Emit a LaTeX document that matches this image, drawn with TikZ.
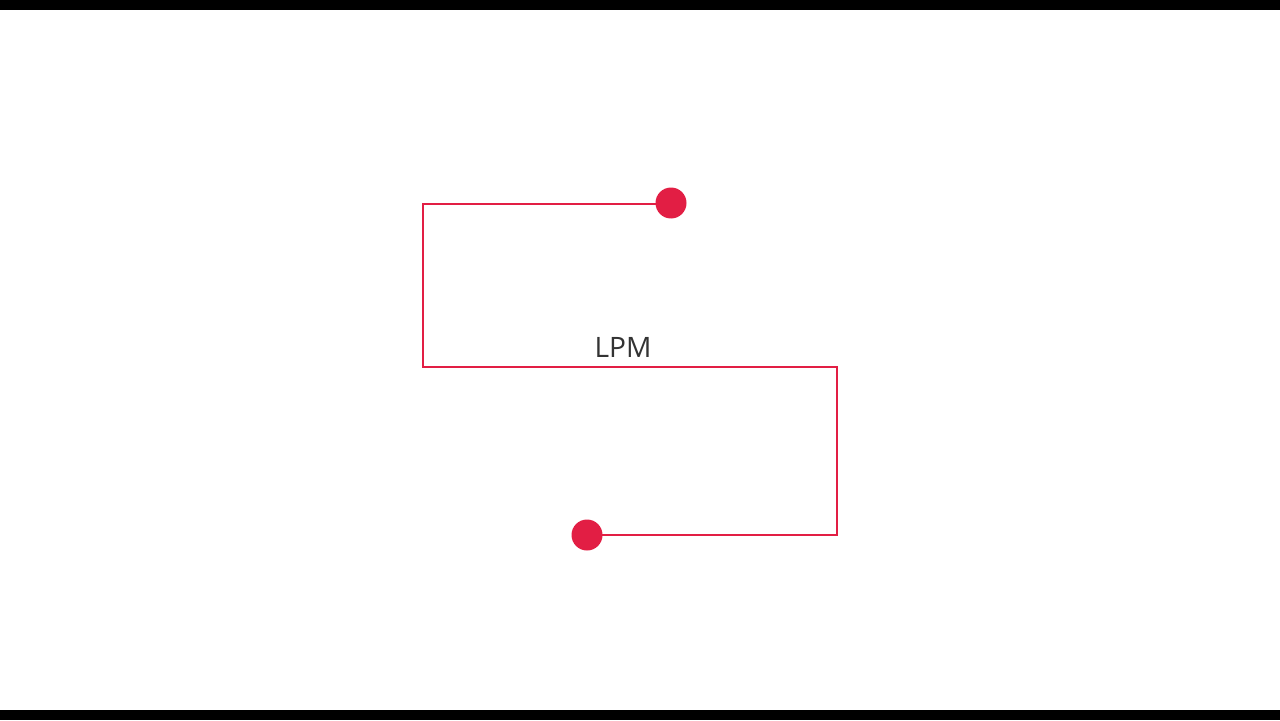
\documentclass[tikz,border=0pt]{standalone}
\usepackage{xcolor}
\usepackage{fontspec}
\setmainfont{Open Sans}
\definecolor{lpmred}{RGB}{226,30,68}
\definecolor{lpmtext}{RGB}{51,51,51}
\pgfdeclarelayer{backlayer}
\pgfdeclarelayer{nodelayer}
\pgfdeclarelayer{edgelayer}
\pgfsetlayers{backlayer,edgelayer,nodelayer,main}
\tikzstyle{dot style}=[fill=lpmred, draw=none, shape=circle, minimum size=0.62cm, inner sep=0pt]
\tikzstyle{none}=[fill=none, draw=none, shape=coordinate]
\tikzstyle{label style}=[text=lpmtext, font=\fontsize{16}{19}\selectfont]
\tikzstyle{wire style}=[draw=lpmred, line width=1.4pt, line join=miter]

\begin{document}
\begin{tikzpicture}[x=0.02cm, y=-0.02cm]
	\useasboundingbox (0,0) rectangle (1280,720);
	\begin{pgfonlayer}{backlayer}
		\fill [black] (0,0) rectangle (1280,720);
		\fill [white] (0,10) rectangle (1280,710);
	\end{pgfonlayer}
	\begin{pgfonlayer}{nodelayer}
		\node [style=dot style] (0) at (671, 203) {};
		\node [style=dot style] (1) at (587, 535) {};
		\node [style=none] (2) at (423, 204) {};
		\node [style=none] (3) at (423, 367) {};
		\node [style=none] (4) at (837, 367) {};
		\node [style=none] (5) at (837, 535) {};
		\node [style=label style] (6) at (623, 347) {LPM};
	\end{pgfonlayer}
	\begin{pgfonlayer}{edgelayer}
		\draw [style=wire style] (0.center |- 2) -- (2) -- (3) -- (4) -- (5) -- (1.center);
	\end{pgfonlayer}
\end{tikzpicture}
\end{document}
